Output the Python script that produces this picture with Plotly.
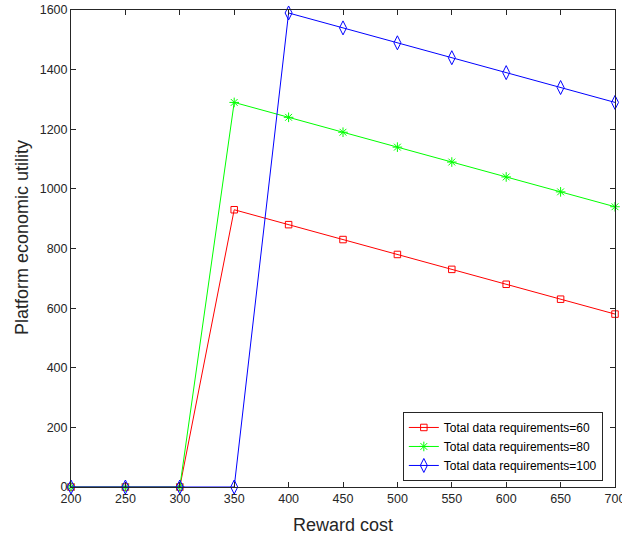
import plotly.graph_objects as go

x = [200, 250, 300, 350, 400, 450, 500, 550, 600, 650, 700]
u60 = [0, 0, 0, 930, 880, 830, 780, 730, 680, 630, 580]
u80 = [0, 0, 0, 1290, 1240, 1190, 1140, 1090, 1040, 990, 940]
u100 = [0, 0, 0, 0, 1590, 1540, 1490, 1440, 1390, 1340, 1290]
names = ["Total data requirements=60", "Total data requirements=80", "Total data requirements=100"]
x_title = "Reward cost"
y_title = "Platform economic utility"

fig = go.Figure()
fig.add_trace(go.Scatter(x=x, y=u60, name=names[0], mode="lines+markers", cliponaxis=False,
                         line=dict(color="#ff0000", width=1),
                         marker=dict(symbol="square-open", size=6.5, color="#ff0000", line=dict(width=1, color="#ff0000"))))
fig.add_trace(go.Scatter(x=x, y=u80, name=names[1], mode="lines+markers", cliponaxis=False,
                         line=dict(color="#00ff00", width=1),
                         marker=dict(symbol="asterisk-open", size=8, color="#00ff00", line=dict(width=1, color="#00ff00"))))
fig.add_trace(go.Scatter(x=x, y=u100, name=names[2], mode="lines+markers", cliponaxis=False,
                         line=dict(color="#0000ff", width=1),
                         marker=dict(symbol="diamond-tall-open", size=10, color="#0000ff", line=dict(width=1, color="#0000ff"))))

axis_common = dict(showgrid=False, zeroline=False, showline=True, linecolor="#262626", linewidth=1,
                   mirror="ticks", ticks="inside", ticklen=5, tickcolor="#262626", automargin=False,
                   ticklabeloverflow="allow",
                   tickfont=dict(family="Arial", size=12.5, color="#262626"))
fig.update_layout(
    width=622, height=537,
    margin=dict(l=71, r=7, t=10, b=50),
    plot_bgcolor="white", paper_bgcolor="white",
    xaxis=dict(range=[200, 700], tickvals=x, **axis_common),
    yaxis=dict(range=[0, 1600], dtick=200, **axis_common),
    legend=dict(x=0.61, y=0.085, xanchor="left", yanchor="middle", bgcolor="white", bordercolor="#262626", borderwidth=1,
                font=dict(family="Arial", size=12, color="#000000"), tracegroupgap=0, itemwidth=30),
    showlegend=True,
    annotations=[
        dict(text=x_title, xref="paper", yref="paper", x=0.5, y=-0.0797, xanchor="center", yanchor="middle",
             showarrow=False, font=dict(family="Arial", size=18, color="#262626")),
        dict(text=y_title, xref="paper", yref="paper", x=-0.09, y=0.522, xanchor="center", yanchor="middle",
             textangle=-90, showarrow=False, font=dict(family="Arial", size=18, color="#262626")),
    ],
)
fig.write_html("out.html", config={"displayModeBar": False},
               post_script="document.body.style.margin='0';document.body.style.overflow='hidden';")
